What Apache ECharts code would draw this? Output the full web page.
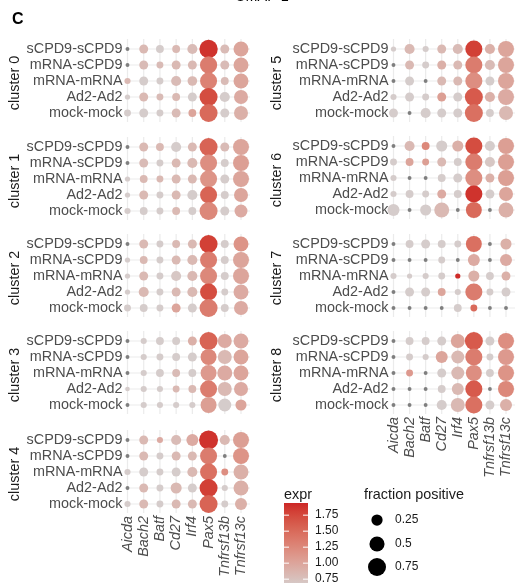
<!DOCTYPE html>
<html>
<head>
<meta charset="utf-8">
<script src="https://cdn.jsdelivr.net/npm/echarts/dist/echarts.min.js"></script>
<style>
  html, body { margin: 0; padding: 0; background: #ffffff; }
  #chart { width: 519px; height: 583px; }
</style>
</head>
<body>
<div id="chart"></div>
<script>
// Marker genes (columns) and sample conditions (rows)
const genes = ['Aicda', 'Bach2', 'Batf', 'Cd27', 'Irf4', 'Pax5', 'Tnfrsf13b', 'Tnfrsf13c'];
const conditions = ['sCPD9-sCPD9', 'mRNA-sCPD9', 'mRNA-mRNA', 'Ad2-Ad2', 'mock-mock'];
const clusters = ['cluster 0', 'cluster 1', 'cluster 2', 'cluster 3', 'cluster 4',
                  'cluster 5', 'cluster 6', 'cluster 7', 'cluster 8'];

// Colour scale limits and legend breaks
const exprLimits = [0.59, 1.94];
const exprBreaks = [0.75, 1.00, 1.25, 1.50, 1.75];
const fracBreaks = [0.25, 0.5, 0.75];

// Fraction of positive cells, rows = conditions, columns = genes
const frac_c0 = [
  [0.01, 0.14, 0.10, 0.10, 0.19, 0.78, 0.14, 0.49],
  [0.01, 0.14, 0.07, 0.14, 0.14, 0.68, 0.14, 0.49],
  [0.05, 0.14, 0.07, 0.19, 0.17, 0.66, 0.10, 0.49],
  [0.03, 0.14, 0.07, 0.10, 0.14, 0.75, 0.19, 0.42],
  [0.07, 0.14, 0.07, 0.14, 0.10, 0.75, 0.14, 0.42]];
const frac_c1 = [
  [0.01, 0.14, 0.10, 0.19, 0.14, 0.75, 0.14, 0.57],
  [0.01, 0.14, 0.07, 0.14, 0.19, 0.66, 0.10, 0.57],
  [0.03, 0.10, 0.07, 0.14, 0.14, 0.66, 0.14, 0.57],
  [0.03, 0.14, 0.07, 0.14, 0.19, 0.66, 0.10, 0.42],
  [0.05, 0.10, 0.07, 0.10, 0.10, 0.75, 0.14, 0.35]];
const frac_c2 = [
  [0.01, 0.14, 0.07, 0.10, 0.14, 0.75, 0.10, 0.49],
  [0.03, 0.10, 0.07, 0.14, 0.19, 0.66, 0.10, 0.57],
  [0.03, 0.14, 0.07, 0.19, 0.19, 0.66, 0.10, 0.57],
  [0.03, 0.19, 0.07, 0.14, 0.19, 0.66, 0.07, 0.49],
  [0.07, 0.10, 0.07, 0.14, 0.14, 0.75, 0.10, 0.42]];
const frac_c3 = [
  [0.01, 0.05, 0.10, 0.10, 0.14, 0.75, 0.42, 0.49],
  [0.01, 0.05, 0.07, 0.10, 0.14, 0.57, 0.42, 0.49],
  [0.01, 0.05, 0.10, 0.10, 0.10, 0.57, 0.49, 0.49],
  [0.02, 0.05, 0.05, 0.07, 0.10, 0.66, 0.42, 0.42],
  [0.01, 0.05, 0.05, 0.05, 0.05, 0.57, 0.35, 0.24]];
const frac_c4 = [
  [0.01, 0.14, 0.05, 0.19, 0.29, 0.84, 0.19, 0.57],
  [0.01, 0.14, 0.07, 0.14, 0.14, 0.66, 0.01, 0.57],
  [0.05, 0.14, 0.07, 0.14, 0.19, 0.66, 0.07, 0.49],
  [0.01, 0.14, 0.07, 0.24, 0.14, 0.75, 0.05, 0.49],
  [0.05, 0.14, 0.07, 0.14, 0.14, 0.75, 0.07, 0.29]];
const frac_c5 = [
  [0.03, 0.19, 0.05, 0.14, 0.19, 0.66, 0.19, 0.57],
  [0.01, 0.14, 0.07, 0.14, 0.14, 0.66, 0.19, 0.57],
  [0.01, 0.14, 0.01, 0.14, 0.14, 0.66, 0.14, 0.57],
  [0.05, 0.14, 0.07, 0.14, 0.14, 0.75, 0.19, 0.57],
  [0.14, 0.01, 0.19, 0.14, 0.14, 0.75, 0.10, 0.42]];
const frac_c6 = [
  [0.01, 0.19, 0.10, 0.24, 0.24, 0.66, 0.19, 0.57],
  [0.07, 0.10, 0.07, 0.14, 0.10, 0.66, 0.19, 0.57],
  [0.05, 0.01, 0.01, 0.10, 0.14, 0.66, 0.14, 0.57],
  [0.05, 0.10, 0.07, 0.14, 0.10, 0.66, 0.14, 0.42],
  [0.29, 0.01, 0.24, 0.49, 0.01, 0.57, 0.01, 0.49]];
const frac_c7 = [
  [0.01, 0.10, 0.14, 0.10, 0.07, 0.57, 0.01, 0.24],
  [0.01, 0.01, 0.01, 0.07, 0.01, 0.29, 0.01, 0.29],
  [0.05, 0.03, 0.05, 0.07, 0.03, 0.24, 0.10, 0.14],
  [0.01, 0.14, 0.14, 0.10, 0.05, 0.66, 0.07, 0.14],
  [0.01, 0.01, 0.01, 0.01, 0.10, 0.07, 0.01, 0.01]];
const frac_c8 = [
  [0.01, 0.10, 0.10, 0.14, 0.42, 0.75, 0.14, 0.57],
  [0.01, 0.07, 0.05, 0.29, 0.35, 0.66, 0.07, 0.57],
  [0.01, 0.07, 0.01, 0.14, 0.35, 0.57, 0.10, 0.57],
  [0.01, 0.01, 0.01, 0.10, 0.29, 0.66, 0.01, 0.57],
  [0.01, 0.01, 0.01, 0.19, 0.42, 0.66, 0.14, 0.29]];

// Average expression, same layout
const expr_c0 = [
  [0.40, 0.82, 0.65, 0.82, 0.80, 1.88, 0.80, 1.00],
  [0.40, 0.80, 0.80, 0.82, 0.82, 1.35, 0.80, 1.00],
  [0.82, 0.65, 0.65, 0.80, 0.82, 1.30, 0.80, 1.00],
  [0.65, 0.82, 0.80, 0.82, 0.65, 1.72, 0.65, 0.95],
  [0.65, 0.65, 0.65, 0.80, 1.00, 1.50, 0.65, 0.90]];
const expr_c1 = [
  [0.40, 0.82, 0.82, 0.65, 0.82, 1.55, 0.80, 1.00],
  [0.40, 0.80, 0.65, 0.82, 0.82, 1.20, 0.65, 1.05],
  [0.65, 0.82, 0.82, 0.82, 0.82, 1.15, 0.65, 1.00],
  [0.65, 0.82, 0.65, 0.82, 0.65, 1.55, 0.65, 1.00],
  [0.65, 0.65, 0.65, 0.82, 0.65, 1.25, 0.65, 0.95]];
const expr_c2 = [
  [0.40, 0.82, 0.65, 0.82, 0.82, 1.80, 0.65, 1.15],
  [0.65, 0.82, 0.65, 0.82, 0.82, 1.35, 0.65, 1.00],
  [0.65, 0.82, 0.65, 0.70, 0.82, 1.25, 0.65, 1.00],
  [0.65, 0.82, 0.65, 0.82, 0.82, 1.72, 0.65, 0.95],
  [0.65, 0.65, 0.65, 1.00, 0.65, 1.35, 0.65, 0.95]];
const expr_c3 = [
  [0.40, 0.65, 0.65, 0.65, 0.90, 1.55, 0.95, 0.95],
  [0.40, 0.65, 0.65, 0.65, 0.65, 1.25, 0.82, 1.00],
  [0.40, 0.65, 0.65, 0.80, 0.65, 1.10, 0.95, 1.00],
  [0.65, 0.65, 0.65, 0.82, 0.82, 1.35, 0.82, 0.95],
  [0.40, 0.65, 0.65, 0.65, 0.65, 1.05, 0.65, 1.00]];
const expr_c4 = [
  [0.40, 0.82, 0.95, 0.80, 0.95, 1.88, 0.82, 1.05],
  [0.40, 0.82, 0.65, 0.82, 0.82, 1.35, 0.40, 1.15],
  [0.65, 0.65, 0.65, 0.65, 0.82, 1.45, 1.20, 0.90],
  [0.40, 0.82, 0.65, 0.82, 0.65, 1.80, 0.65, 0.90],
  [0.65, 0.82, 0.65, 0.82, 0.82, 1.55, 0.65, 0.90]];
const expr_c5 = [
  [0.65, 0.82, 0.65, 0.82, 0.80, 1.80, 0.90, 1.00],
  [0.40, 0.82, 0.65, 0.90, 0.82, 1.35, 0.80, 1.00],
  [0.40, 0.65, 0.40, 0.82, 0.82, 1.20, 0.65, 1.00],
  [0.65, 0.65, 0.65, 1.05, 0.65, 1.62, 0.90, 0.95],
  [0.65, 0.40, 0.65, 0.65, 0.65, 1.45, 0.65, 0.82]];
const expr_c6 = [
  [0.40, 0.82, 1.25, 0.65, 0.90, 1.72, 0.65, 1.05],
  [0.65, 1.00, 1.05, 0.82, 0.65, 1.35, 0.70, 1.05],
  [0.65, 0.40, 0.40, 0.65, 0.65, 1.20, 0.90, 1.05],
  [0.65, 0.65, 0.65, 0.95, 0.65, 1.88, 0.65, 1.00],
  [0.65, 0.40, 0.65, 0.82, 0.40, 1.50, 0.40, 0.90]];
const expr_c7 = [
  [0.40, 0.65, 0.65, 0.65, 0.65, 1.45, 0.40, 0.90],
  [0.40, 0.40, 0.40, 0.65, 0.40, 0.95, 0.40, 0.95],
  [0.65, 0.65, 0.65, 0.65, 1.92, 0.90, 0.65, 0.90],
  [0.40, 0.65, 0.65, 1.00, 0.65, 1.35, 0.65, 0.65],
  [0.40, 0.40, 0.40, 0.40, 0.65, 1.50, 0.40, 0.40]];
const expr_c8 = [
  [0.40, 0.65, 0.65, 0.65, 1.00, 1.62, 0.65, 1.20],
  [0.40, 0.65, 0.65, 1.00, 0.82, 1.35, 0.65, 1.10],
  [0.40, 1.10, 0.40, 0.65, 0.82, 1.20, 0.65, 1.15],
  [0.40, 0.40, 0.40, 0.65, 0.82, 1.62, 0.40, 1.25],
  [0.40, 0.40, 0.40, 0.65, 0.82, 1.45, 0.65, 0.90]];

const fracTables = [frac_c0, frac_c1, frac_c2, frac_c3, frac_c4, frac_c5, frac_c6, frac_c7, frac_c8];
const exprTables = [expr_c0, expr_c1, expr_c2, expr_c3, expr_c4, expr_c5, expr_c6, expr_c7, expr_c8];

// ---- colour scale: lightgrey -> firebrick3, interpolated in CIE Lab ----
const LOW = '#D3D3D3', HIGH = '#CD2626', NA_COLOR = '#7F7F7F';
function hexToLab(hex) {
  const c = [1, 3, 5].map(i => parseInt(hex.slice(i, i + 2), 16) / 255)
    .map(v => v <= 0.04045 ? v / 12.92 : Math.pow((v + 0.055) / 1.055, 2.4));
  const X = (0.4124 * c[0] + 0.3576 * c[1] + 0.1805 * c[2]) / 0.95047;
  const Y = (0.2126 * c[0] + 0.7152 * c[1] + 0.0722 * c[2]);
  const Z = (0.0193 * c[0] + 0.1192 * c[1] + 0.9505 * c[2]) / 1.08883;
  const f = t => t > 0.008856 ? Math.cbrt(t) : 7.787 * t + 16 / 116;
  return [116 * f(Y) - 16, 500 * (f(X) - f(Y)), 200 * (f(Y) - f(Z))];
}
function labToHex(lab) {
  const fy = (lab[0] + 16) / 116, fx = fy + lab[1] / 500, fz = fy - lab[2] / 200;
  const inv = t => (t * t * t > 0.008856) ? t * t * t : (t - 16 / 116) / 7.787;
  const X = 0.95047 * inv(fx), Y = inv(fy), Z = 1.08883 * inv(fz);
  const rgb = [
    3.2406 * X - 1.5372 * Y - 0.4986 * Z,
    -0.9689 * X + 1.8758 * Y + 0.0415 * Z,
    0.0557 * X - 0.2040 * Y + 1.0570 * Z
  ].map(v => v <= 0.0031308 ? 12.92 * v : 1.055 * Math.pow(v, 1 / 2.4) - 0.055)
   .map(v => Math.round(Math.max(0, Math.min(1, v)) * 255));
  return '#' + rgb.map(v => v.toString(16).padStart(2, '0')).join('');
}
const labLow = hexToLab(LOW), labHigh = hexToLab(HIGH);
function exprColor(v) {
  if (v < exprLimits[0] || v > exprLimits[1]) return NA_COLOR;
  const t = (v - exprLimits[0]) / (exprLimits[1] - exprLimits[0]);
  return labToHex(labLow.map((l, i) => l + (labHigh[i] - l) * t));
}
// ---- size scale: area proportional to fraction ----
function fracSize(f) { return 2 + 18.5 * Math.sqrt(f); }

// ---- panel layout ----
const FONT = "'Liberation Sans', Arial, Helvetica, sans-serif";
const TEXT_GREY = '#4d4d4d';
const PANEL_H = 64;
const panels = [
  { left: 127.5, width: 113.5, top: 49 },
  { left: 127.5, width: 113.5, top: 147 },
  { left: 127.5, width: 113.5, top: 244 },
  { left: 127.5, width: 113.5, top: 341 },
  { left: 127.5, width: 113.5, top: 440 },
  { left: 393.5, width: 112.5, top: 49 },
  { left: 393.5, width: 112.5, top: 146 },
  { left: 393.5, width: 112.5, top: 244 },
  { left: 393.5, width: 112.5, top: 341 }
];
const bottomPanels = [4, 8];

const grids = [], xAxes = [], yAxes = [], series = [], graphics = [];

panels.forEach((p, k) => {
  grids.push({ left: p.left, top: p.top, width: p.width, height: PANEL_H });
  const showX = bottomPanels.includes(k);
  xAxes.push({
    gridIndex: k, type: 'category', data: genes, boundaryGap: false,
    axisLine: { show: false }, axisTick: { show: false }, splitLine: { show: false },
    axisLabel: {
      show: showX, rotate: 90, interval: 0, margin: 12, hideOverlap: false,
      fontFamily: FONT, fontSize: 14.4, fontStyle: 'italic', color: TEXT_GREY
    }
  });
  yAxes.push({
    gridIndex: k, type: 'category', data: conditions, boundaryGap: false, inverse: true,
    axisLine: { show: false }, axisTick: { show: false }, splitLine: { show: false },
    axisLabel: { interval: 0, margin: 5, fontFamily: FONT, fontSize: 14.4, color: TEXT_GREY }
  });

  // major grid lines, running a little past the outer rows and columns
  const gridData = genes.map((g, i) => [0, i]).concat(conditions.map((c, j) => [1, j]));
  series.push({
    type: 'custom', xAxisIndex: k, yAxisIndex: k, silent: true, z: 1, clip: false,
    data: gridData,
    renderItem: function (params, api) {
      const kind = gridData[params.dataIndex][0];
      const idx = gridData[params.dataIndex][1];
      let shape;
      if (kind === 0) {
        const a = api.coord([idx, 0]), b = api.coord([idx, conditions.length - 1]);
        shape = { x1: a[0], y1: a[1] - 10, x2: b[0], y2: b[1] + 9 };
      } else {
        const a = api.coord([0, idx]), b = api.coord([genes.length - 1, idx]);
        shape = { x1: a[0] - 3, y1: a[1], x2: b[0] + 9, y2: b[1] };
      }
      return { type: 'line', shape: shape, style: { stroke: '#ebebeb', lineWidth: 1.2 } };
    }
  });

  // dots: [gene, condition, fraction, expression]
  const pts = [];
  conditions.forEach((c, j) => {
    genes.forEach((g, i) => {
      pts.push([i, j, fracTables[k][j][i], exprTables[k][j][i]]);
    });
  });
  series.push({
    type: 'scatter', xAxisIndex: k, yAxisIndex: k, z: 2, silent: true,
    data: pts,
    symbol: 'circle',
    symbolSize: v => fracSize(v[2]),
    itemStyle: { color: params => exprColor(params.value[3]), opacity: 1 }
  });

  // facet strip label
  const cx = p.left < 200 ? 15 : 277;
  graphics.push({
    type: 'text', x: cx, y: p.top + PANEL_H / 2 + 2, rotation: Math.PI / 2,
    style: {
      text: clusters[k], font: '14.4px ' + FONT, fill: '#1a1a1a',
      textAlign: 'center', textVerticalAlign: 'middle'
    }
  });
});

// ---- panel tag and clipped x title ----
graphics.push({
  type: 'text', x: 12, y: 20,
  style: { text: 'C', font: 'bold 16px ' + FONT, fill: '#000', textAlign: 'left', textVerticalAlign: 'middle' }
});
graphics.push({
  type: 'text', x: 262, y: 4,
  style: { text: 'UMAP 1', font: '14.4px ' + FONT, fill: '#000', textAlign: 'center', textVerticalAlign: 'bottom' }
});

// ---- colour bar legend ----
const BAR = { x: 284, y: 503, w: 24, pxPerUnit: 64 };
BAR.h = (exprLimits[1] - exprLimits[0]) * BAR.pxPerUnit;
const stops = [];
for (let s = 0; s <= 20; s++) {
  const v = exprLimits[1] - (exprLimits[1] - exprLimits[0]) * s / 20;
  stops.push({ offset: s / 20, color: exprColor(v) });
}
graphics.push({
  type: 'text', x: BAR.x, y: 495,
  style: { text: 'expr', font: '14.4px ' + FONT, fill: '#1a1a1a', textAlign: 'left', textVerticalAlign: 'middle' }
});
graphics.push({
  type: 'rect', shape: { x: BAR.x, y: BAR.y, width: BAR.w, height: BAR.h },
  style: { fill: new echarts.graphic.LinearGradient(0, 0, 0, 1, stops) }
});
exprBreaks.forEach(b => {
  const yy = BAR.y + (exprLimits[1] - b) * BAR.pxPerUnit;
  graphics.push({ type: 'line', shape: { x1: BAR.x, y1: yy, x2: BAR.x + 5, y2: yy }, style: { stroke: '#fff', lineWidth: 1 } });
  graphics.push({ type: 'line', shape: { x1: BAR.x + BAR.w - 5, y1: yy, x2: BAR.x + BAR.w, y2: yy }, style: { stroke: '#fff', lineWidth: 1 } });
  graphics.push({
    type: 'text', x: 315, y: yy,
    style: { text: b.toFixed(2), font: '12px ' + FONT, fill: '#1a1a1a', textAlign: 'left', textVerticalAlign: 'middle' }
  });
});

// ---- size legend ----
graphics.push({
  type: 'text', x: 364, y: 495,
  style: { text: 'fraction positive', font: '14.4px ' + FONT, fill: '#1a1a1a', textAlign: 'left', textVerticalAlign: 'middle' }
});
const sizeRowsY = [520, 544, 567];
fracBreaks.forEach((f, i) => {
  graphics.push({ type: 'circle', shape: { cx: 377, cy: sizeRowsY[i], r: fracSize(f) / 2 }, style: { fill: '#000' } });
  graphics.push({
    type: 'text', x: 395, y: sizeRowsY[i],
    style: { text: String(f), font: '12px ' + FONT, fill: '#1a1a1a', textAlign: 'left', textVerticalAlign: 'middle' }
  });
});

const chart = echarts.init(document.getElementById('chart'), null, { renderer: 'canvas' });
chart.setOption({
  backgroundColor: '#ffffff',
  animation: false,
  grid: grids,
  xAxis: xAxes,
  yAxis: yAxes,
  series: series,
  graphic: { elements: graphics }
});
</script>
</body>
</html>
